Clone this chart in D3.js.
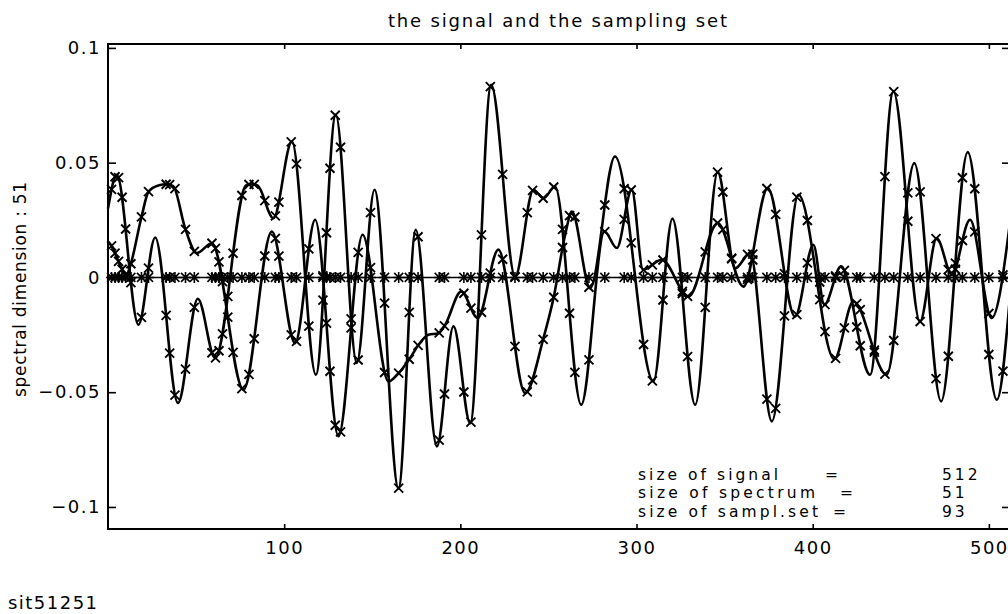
<!DOCTYPE html>
<html>
<head>
<meta charset="utf-8">
<script src="https://cdn.jsdelivr.net/npm/d3@7"></script>
<style>
  body { margin: 0; background: #fff; }
  text { font-family: "DejaVu Sans", sans-serif; fill: #000; }
</style>
</head>
<body>
<script>
// values: curve knots are [index, value]
const signalA = [
  [0, 0.030], [5.0, 0.0447], [17.3, -0.0206], [26.8, 0.0174], [39.7, -0.0547],
  [51.0, -0.0093], [60.8, -0.0351], [78.5, 0.0402], [82, 0.0406], [85, 0.0400],
  [93.9, 0.0258], [104.4, 0.0592], [118.0, -0.0424], [129.3, 0.0709], [141.2, -0.0373],
  [151.3, 0.0382], [164.9, -0.0918], [174.7, 0.0208], [186.7, -0.0736], [196.1, -0.0213],
  [205.6, -0.0635], [217.5, 0.0839], [231.1, 0.0004], [241.5, 0.0382], [247.2, 0.0345],
  [253.8, 0.0396], [268.6, -0.0555], [281.8, 0.020], [288.8, 0.0128], [297.3, 0.0382],
  [303.7, 0.0033], [314.3, 0.0077], [329.5, -0.0083], [346.1, 0.0237], [360.7, -0.004],
  [374.5, 0.0389], [390.0, -0.017], [400.4, 0.0142], [406.6, -0.0119], [416.1, 0.0048],
  [432.6, -0.0424], [445.8, 0.081], [460.9, -0.0192], [470.4, 0.0171], [479.0, 0.0012],
  [489.3, 0.0251], [501.6, -0.0177], [512, 0.024]
];

const signalB = [
  [0, 0.0157], [2.2, 0.0135], [6.0, 0.007], [10.5, 0.001], [12.6, 0.005],
  [19.2, 0.027], [23.0, 0.0374], [29, 0.0402], [33, 0.0406], [37, 0.0398],
  [43.8, 0.0214], [50.4, 0.0106], [59.0, 0.0149], [76.9, -0.0489], [93.0, 0.0200],
  [106.2, -0.0286], [117.6, 0.0251], [130.8, -0.0692], [144.5, 0.0186], [159.2, -0.0453],
  [164, -0.0425], [171.5, -0.0351], [176.3, -0.0293], [181.9, -0.025], [187.6, -0.0243],
  [191.4, -0.0206], [200.5, -0.0061], [209.9, -0.0177], [221.6, 0.0121], [236.8, -0.0504],
  [247.2, -0.0264], [252.9, -0.009], [259.5, 0.0186], [263.3, 0.0287], [273.7, -0.0047],
  [287.8, 0.0527], [309.6, -0.0453], [320.4, 0.0256], [333.3, -0.0555], [346.1, 0.0459],
  [356.0, 0.004], [364.5, 0.0106], [376.8, -0.0627], [391.9, 0.036], [412.3, -0.0356],
  [423.1, -0.0105], [442.0, -0.0424], [457.7, 0.0498], [472.9, -0.054], [488.0, 0.0546],
  [504.5, -0.0533], [512, -0.008]
];

// the sampling set (93 indices)
const samplingSet = [
  2, 4, 6, 8, 10, 13, 19, 23, 33, 35, 38, 44, 49, 59, 61, 63, 65, 68, 71, 76, 80, 83,
  89, 95, 97, 104, 107, 114, 122, 124, 126, 129, 132,
  138, 142, 149, 157, 165, 171, 176, 188, 191, 202, 206, 212, 217, 224, 231, 238, 241,
  247, 253, 258,
  262, 265, 273, 282, 293, 297, 304, 309, 315, 326, 329, 339, 346, 349, 354, 363, 366,
  374, 379,
  384, 391, 397, 404, 407, 413, 418, 425, 427, 435, 441, 446, 454, 461, 470, 477, 481,
  485, 492, 500, 508
];

const xTicks = [100, 200, 300, 400, 500];
const yTicks = [0.1, 0.05, 0, -0.05, -0.1];
const yTickLabels = ["0.1", "0.05", "0", "\u22120.05", "\u22120.1"];
const infoLabels = ["size of signal", "size of spectrum", "size of sampl.set"];
const infoValues = ["512", "51", "93"];

let width = 1008;
let height = 614;
let plotLeft = 108, plotRight = 1010, plotTop = 44, plotBottom = 529;

let x = d3.scaleLinear().domain([0, 512]).range([plotLeft, plotRight]);
let y = d3.scaleLinear().domain([-0.1096, 0.1017]).range([plotBottom, plotTop]);

let svg = d3
  .select("body")
  .append("svg")
  .attr("width", width)
  .attr("height", height);

// axes: inward ticks all round, labels only left and bottom
svg.append("g")
  .attr("transform", `translate(${plotLeft},0)`)
  .call(d3.axisLeft(y).tickValues(yTicks).tickSize(-8).tickPadding(7)
    .tickFormat((d, i) => yTickLabels[i]))
  .call(g => g.select(".domain").remove());

svg.append("g")
  .attr("transform", `translate(${plotRight},0)`)
  .call(d3.axisRight(y).tickValues(yTicks).tickSize(-8).tickFormat(""))
  .call(g => g.select(".domain").remove());

svg.append("g")
  .attr("transform", `translate(0,${plotBottom})`)
  .call(d3.axisBottom(x).tickValues(xTicks).tickSize(-5).tickPadding(12))
  .call(g => g.select(".domain").remove());

svg.append("g")
  .attr("transform", `translate(0,${plotTop})`)
  .call(d3.axisTop(x).tickValues(xTicks).tickSize(-5).tickFormat(""))
  .call(g => g.select(".domain").remove());

svg.selectAll(".tick line").attr("stroke", "#000").attr("stroke-width", 1.6);
svg.selectAll(".tick text")
  .attr("font-family", "DejaVu Sans")
  .attr("font-size", 18)
  .attr("letter-spacing", 1.5);

svg.append("rect")
  .attr("x", plotLeft)
  .attr("y", plotTop)
  .attr("width", plotRight - plotLeft)
  .attr("height", plotBottom - plotTop)
  .attr("fill", "none")
  .attr("stroke", "#000")
  .attr("stroke-width", 2);

let line = d3.line()
  .x(d => x(d[0]))
  .y(d => y(d[1]))
  .curve(d3.curveMonotoneX);

// zero line carrying the sampling set
svg.append("path")
  .attr("d", line([[0, 0], [512, 0]]))
  .attr("fill", "none")
  .attr("stroke", "#000")
  .attr("stroke-width", 1.6);

let paths = [signalA, signalB].map(s =>
  svg.append("path")
    .attr("d", line(s))
    .attr("fill", "none")
    .attr("stroke", "#000")
    .attr("stroke-width", 2.6)
    .attr("stroke-linejoin", "round")
    .node()
);

// y of a drawn curve at a given pixel x
let yOnPath = (node, px) => {
  let lo = 0, hi = node.getTotalLength();
  for (let i = 0; i < 40; i++) {
    let mid = (lo + hi) / 2;
    if (node.getPointAtLength(mid).x < px) lo = mid;
    else hi = mid;
  }
  return node.getPointAtLength(lo).y;
};

let s = 4.5;
let cross = `M${-s},${-s}L${s},${s}M${-s},${s}L${s},${-s}`;
let star = cross + `M0,${-s - 1}L0,${s + 1}M${-s - 1},0L${s + 1},0`;

paths.forEach(node => {
  svg.append("g")
    .selectAll("path")
    .data(samplingSet)
    .enter()
    .append("path")
    .attr("transform", d => `translate(${x(d)},${yOnPath(node, x(d))})`)
    .attr("d", cross)
    .attr("stroke", "#000")
    .attr("stroke-width", 1.9)
    .attr("fill", "none");
});

svg.append("g")
  .selectAll("path")
  .data(samplingSet)
  .enter()
  .append("path")
  .attr("transform", d => `translate(${x(d)},${y(0)})`)
  .attr("d", star)
  .attr("stroke", "#000")
  .attr("stroke-width", 1.6)
  .attr("fill", "none");

// texts
svg.append("text")
  .attr("x", 388)
  .attr("y", 27)
  .attr("font-size", 18)
  .attr("textLength", 339)
  .attr("lengthAdjust", "spacing")
  .text("the signal and the sampling set");

svg.append("text")
  .attr("transform", "translate(26,397) rotate(-90)")
  .attr("font-size", 17)
  .attr("textLength", 215)
  .attr("lengthAdjust", "spacing")
  .text("spectral dimension : 51");

let labelLen = [140, 177, 180];
let eqX = [825, 840, 833];
infoLabels.forEach((t, i) => {
  let by = 479.5 + i * 18.5;
  svg.append("text")
    .attr("x", 638).attr("y", by)
    .attr("font-size", 15.5)
    .attr("textLength", labelLen[i])
    .attr("lengthAdjust", "spacing")
    .text(t);
  svg.append("text")
    .attr("x", eqX[i]).attr("y", by)
    .attr("font-size", 15.5)
    .text("=");
  svg.append("text")
    .attr("x", 942).attr("y", by)
    .attr("font-size", 15.5)
    .attr("letter-spacing", 3)
    .text(infoValues[i]);
});

svg.append("text")
  .attr("x", 8)
  .attr("y", 609)
  .attr("font-size", 18)
  .attr("textLength", 89)
  .attr("lengthAdjust", "spacing")
  .text("sit51251");
</script>
</body>
</html>
